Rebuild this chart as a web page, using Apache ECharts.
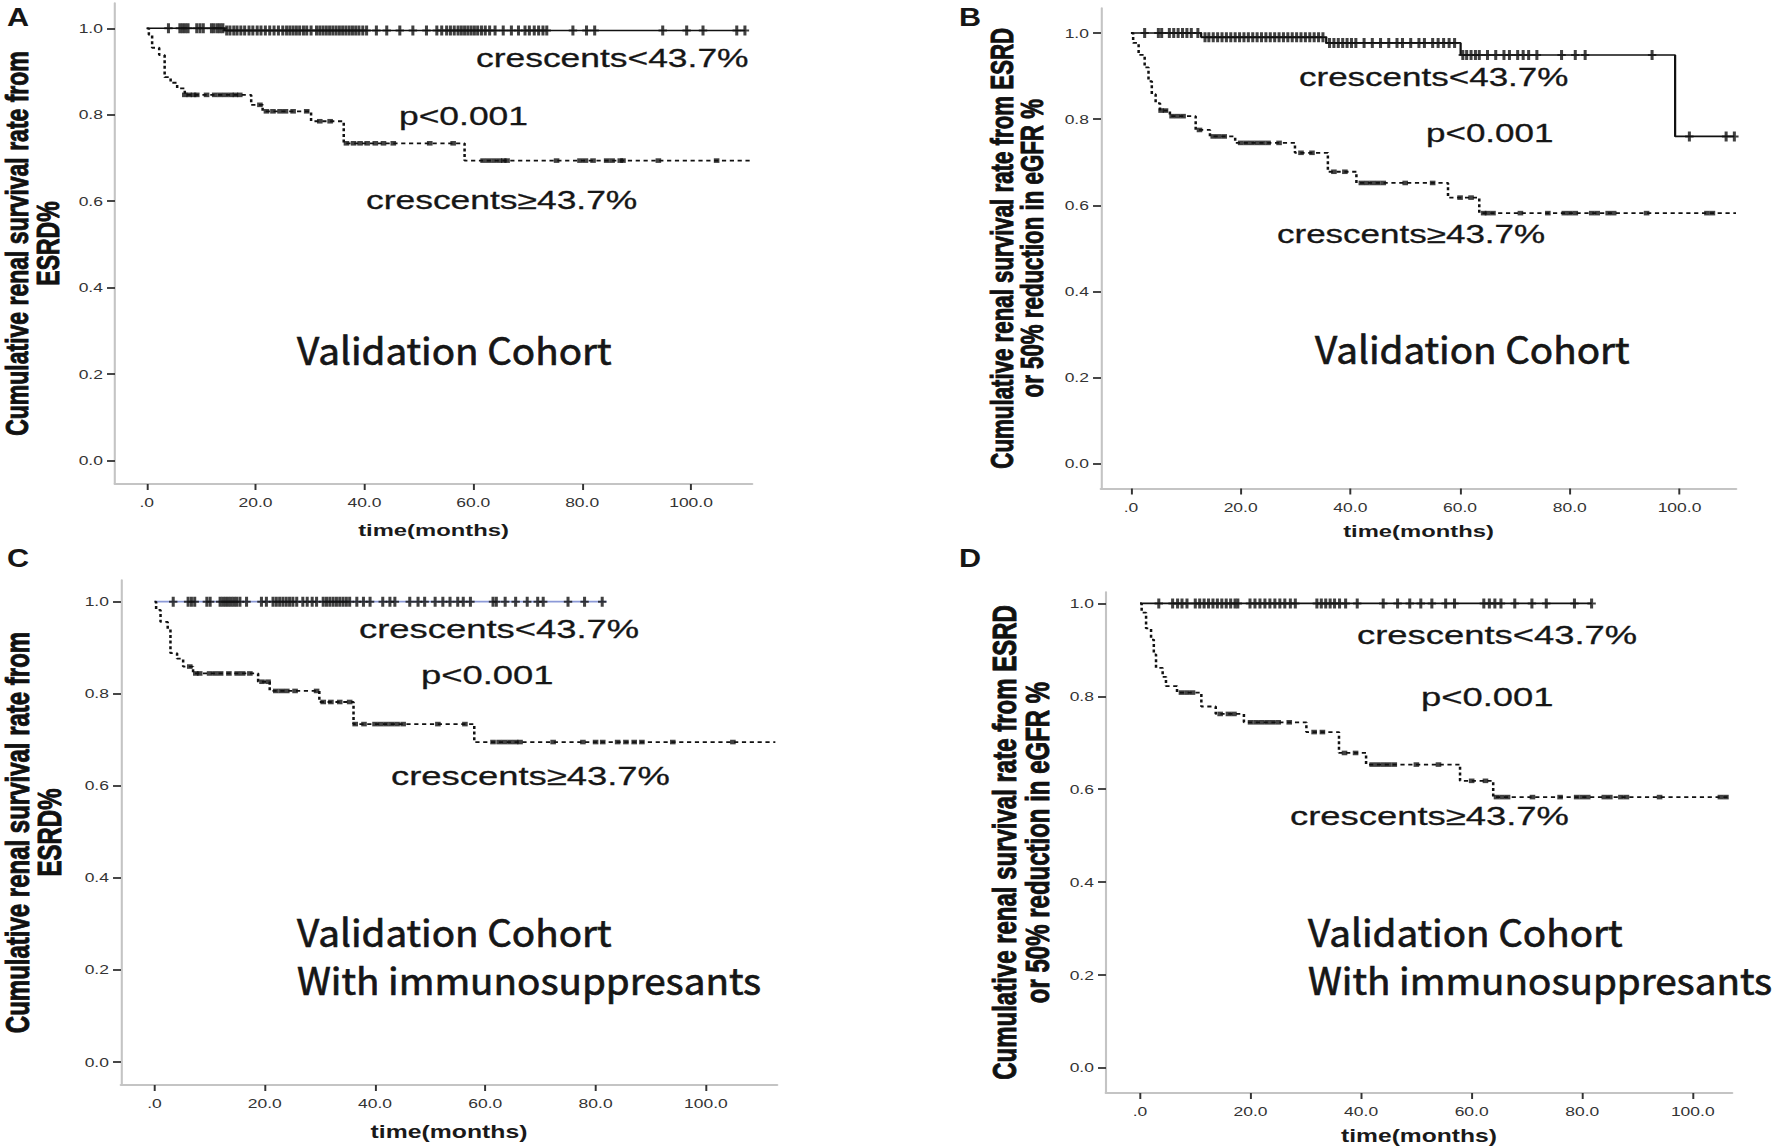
<!DOCTYPE html>
<html><head><meta charset="utf-8">
<script src="https://cdn.jsdelivr.net/npm/echarts@6/dist/echarts.min.js"></script>
<style>
html,body{margin:0;padding:0;background:#fff;overflow:hidden;width:1772px;height:1148px;}
#chart{width:1265.714px;height:1148px;transform:scaleX(1.4);transform-origin:0 0;}
</style></head><body><div id="chart"></div>
<script>
// ---------------- data ----------------
const xTickValues = [0, 20, 40, 60, 80, 100];
const yTickValues = [0, 0.2, 0.4, 0.6, 0.8, 1.0];
const groupLow = 'crescents≥43.7%';
const groupHigh = 'crescents<43.7%';
const pText = 'p<0.001';

// Panel A
const aUpTimes = [0, 14.3, 110];
const aUpSurv  = [1.0, 0.995, 0.995];
const aLowTimes = [0, 0.4, 1.0, 2.3, 3.3, 4.4, 5.6, 7.0, 19.2, 21.3, 30.2, 36.2, 58.4, 111];
const aLowSurv  = [1.0, 0.985, 0.955, 0.938, 0.887, 0.874, 0.861, 0.846, 0.823, 0.808, 0.785, 0.734, 0.694, 0.694];
const aUpCensor = [4.0, 6.1, 6.6, 7.1, 7.6, 9.2, 9.8, 10.4, 11.9, 12.4, 13.0, 13.5, 14.0, 14.7, 15.3, 16.0, 16.6, 17.3, 18.0, 18.8, 19.5, 20.3, 21.0, 21.8, 22.6, 23.4, 24.2, 25.0, 25.7, 26.3, 26.9, 27.5, 28.1, 28.8, 29.4, 30.2, 31.2, 31.8, 32.4, 33.0, 33.6, 34.2, 34.8, 35.4, 36.0, 36.6, 37.2, 37.8, 38.4, 39.0, 39.7, 40.4, 42.2, 44.1, 46.5, 48.9, 51.4, 53.3, 54.2, 55.1, 55.8, 56.5, 57.2, 57.8, 58.4, 59.0, 59.6, 60.2, 60.8, 61.5, 62.2, 63.0, 64.0, 65.5, 67.0, 68.3, 69.5, 70.3, 71.2, 72.0, 72.8, 73.5, 78.3, 80.8, 82.3, 94.8, 99.2, 102.2, 108.4, 109.9];
const aLowCensor = [7.0, 7.8, 8.6, 9.2, 11.0, 12.5, 13.5, 14.5, 15.5, 16.3, 17.1, 20.8, 22.0, 23.2, 24.5, 25.5, 26.9, 29.4, 31.8, 33.7, 36.7, 38.0, 39.2, 40.5, 42.0, 43.5, 45.3, 52.0, 56.3, 61.8, 62.8, 63.8, 64.8, 65.6, 66.2, 75.3, 79.6, 80.6, 82.0, 84.5, 85.5, 87.0, 87.5, 94.0, 104.7];

// Panel B
const bUpTimes = [0, 12.8, 35.6, 60.1, 99.2, 110];
const bUpSurv  = [1.0, 0.99, 0.977, 0.949, 0.76, 0.76];
const bLowTimes = [0, 0.4, 1.4, 2.5, 3.2, 3.8, 4.5, 5.3, 7.1, 11.8, 14.4, 19.0, 29.9, 35.9, 41.1, 57.8, 63.5, 110.3];
const bLowSurv  = [1.0, 0.977, 0.949, 0.92, 0.888, 0.858, 0.837, 0.82, 0.807, 0.775, 0.76, 0.745, 0.722, 0.678, 0.652, 0.618, 0.582, 0.582];
const bUpCensor = [2.5, 5.0, 5.6, 7.0, 7.8, 8.6, 9.4, 10.2, 11.0, 12.2, 13.5, 14.2, 15.0, 15.8, 16.6, 17.4, 18.2, 19.0, 19.8, 20.6, 21.4, 22.2, 23.0, 23.8, 24.6, 25.4, 26.2, 27.0, 27.8, 28.6, 29.4, 30.2, 31.0, 31.8, 32.6, 33.4, 34.2, 35.0, 36.2, 37.0, 37.8, 38.6, 39.4, 40.2, 41.0, 42.5, 44.0, 45.5, 47.0, 48.5, 49.5, 51.0, 52.5, 53.5, 55.0, 56.0, 57.0, 58.0, 59.0, 60.5, 61.2, 62.0, 62.8, 63.5, 65.0, 66.5, 68.0, 69.0, 70.5, 71.5, 72.5, 74.0, 78.5, 81.0, 82.8, 95.0, 101.8, 108.5, 110.0];
const bLowCensor = [5.5, 6.3, 7.5, 8.5, 9.5, 12.5, 15.0, 16.0, 17.0, 20.0, 21.0, 22.0, 23.0, 24.0, 25.0, 27.0, 31.0, 33.0, 37.0, 39.0, 42.0, 43.0, 44.0, 45.0, 46.0, 50.0, 55.0, 60.0, 62.0, 64.3, 65.0, 66.0, 71.0, 76.0, 79.0, 80.0, 81.0, 84.0, 85.0, 87.0, 88.0, 94.0, 105.0, 106.0];

// Panel C
const cUpTimes = [0, 82];
const cUpSurv  = [1.0, 1.0];
const cLowTimes = [0, 0.3, 1.1, 2.4, 2.9, 4.1, 5.2, 7.0, 18.8, 20.9, 29.9, 36.1, 58.0, 112.6];
const cLowSurv  = [1.0, 0.982, 0.956, 0.94, 0.888, 0.876, 0.859, 0.844, 0.826, 0.806, 0.782, 0.734, 0.695, 0.695];
const cUpCensor = [3.4, 6.1, 6.7, 7.3, 9.5, 10.1, 11.9, 12.4, 12.9, 13.4, 13.9, 14.4, 14.9, 15.5, 16.7, 19.4, 20.3, 21.5, 22.1, 22.7, 23.3, 23.9, 24.5, 25.1, 25.8, 26.9, 27.7, 28.6, 29.4, 30.6, 31.2, 31.8, 32.4, 33.0, 33.6, 34.2, 34.8, 35.4, 36.7, 37.9, 39.1, 41.4, 42.7, 43.6, 46.3, 47.8, 49.0, 50.9, 52.3, 53.6, 55.0, 56.0, 57.3, 61.4, 62.0, 63.6, 65.5, 67.6, 69.5, 70.5, 75.0, 78.0, 81.2];
const cLowCensor = [6.4, 7.5, 8.2, 10.0, 11.0, 12.0, 13.5, 15.0, 16.0, 17.3, 19.5, 20.6, 22.0, 23.0, 24.0, 25.5, 29.4, 30.6, 32.0, 33.6, 35.4, 36.4, 38.0, 40.0, 41.0, 42.0, 43.0, 44.0, 45.1, 51.4, 56.3, 61.4, 62.5, 63.5, 64.5, 65.5, 66.3, 72.3, 77.7, 80.0, 81.3, 84.0, 85.5, 87.0, 88.4, 94.0, 104.9];

// Panel D
const dUpTimes = [0, 81.7];
const dUpSurv  = [1.0, 1.0];
const dLowTimes = [0, 0.3, 1.1, 2.0, 2.5, 2.9, 4.1, 4.7, 6.7, 11.1, 13.7, 18.8, 30.1, 36.0, 40.9, 57.9, 63.9, 106.8];
const dLowSurv  = [1.0, 0.98, 0.946, 0.922, 0.89, 0.861, 0.842, 0.822, 0.808, 0.778, 0.762, 0.744, 0.723, 0.678, 0.653, 0.618, 0.583, 0.583];
const dUpCensor = [3.4, 5.9, 6.8, 7.6, 8.5, 10.0, 10.8, 11.6, 12.4, 13.2, 14.0, 14.8, 15.6, 16.4, 17.2, 17.7, 19.9, 20.8, 21.7, 22.6, 23.5, 24.4, 25.3, 26.2, 27.2, 28.1, 32.0, 32.8, 33.6, 34.4, 35.2, 36.1, 37.2, 39.3, 44.0, 46.6, 48.8, 50.8, 52.8, 55.3, 56.9, 62.2, 63.2, 64.2, 65.3, 67.8, 70.9, 73.5, 78.6, 81.7];
const dLowCensor = [7.5, 8.5, 9.5, 14.5, 16.0, 17.0, 20.0, 21.0, 22.0, 23.0, 24.0, 25.0, 27.0, 31.5, 33.0, 37.0, 39.0, 42.0, 43.0, 44.0, 45.0, 46.0, 50.0, 54.0, 60.0, 62.5, 64.5, 65.5, 66.5, 71.0, 76.0, 79.0, 80.0, 81.0, 84.0, 85.0, 87.0, 88.0, 94.0, 105.0, 106.0];

const yTitleShort = 'Cumulative renal survival rate from\nESRD%';
const yTitleLong = 'Cumulative renal survival rate from ESRD\nor 50% reduction in eGFR %';
const xTitle = 'time(months)';
const cohortTitle = 'Validation Cohort';
const cohortSub = 'With immunosuppresants';

// ---------------- layout (in final page pixels; page is stretched 1.4x horizontally) ----------------
const S = 1.4;
const px = v => v / S;

const panels = [
  { letter:'A', box:{l:115, r:752, t:3, b:484}, x:[-5.82, 111.2], y:[-0.054, 1.0585],
    up:[aUpTimes, aUpSurv], low:[aLowTimes, aLowSurv], cu:aUpCensor, cl:aLowCensor, upColor:'#111',
    yName:yTitleShort, yFont:23, yGap:px(115-32.5), xGap:46, xFont:17, letterPos:[7,17],
    txt:[[groupHigh,476,58,25.3],[pText,399,116,25.3],[groupLow,366,200,25.3]], cohort:[297,349], sub:null },
  { letter:'B', box:{l:1101, r:1736, t:8, b:488.5}, x:[-5.46, 110.3], y:[-0.057, 1.058],
    up:[bUpTimes, bUpSurv], low:[bLowTimes, bLowSurv], cu:bUpCensor, cl:bLowCensor, upColor:'#111',
    yName:yTitleLong, yFont:22.3, yGap:px(1101-1017), xGap:42.5, xFont:17, letterPos:[959,17],
    txt:[[groupHigh,1299,77,25],[pText,1426,133,25],[groupLow,1277,234,25]], cohort:[1315,348], sub:null },
  { letter:'C', box:{l:121, r:777, t:580, b:1085}, x:[-6.07, 112.9], y:[-0.05, 1.047],
    up:[cUpTimes, cUpSurv], low:[cLowTimes, cLowSurv], cu:cUpCensor, cl:cLowCensor, upColor:'#8c9ad8',
    yName:yTitleShort, yFont:24, yGap:px(121-33.5), xGap:47, xFont:17.7, letterPos:[7,558],
    txt:[[groupHigh,359,629,26],[pText,421,675,26],[groupLow,391,776,26]], cohort:[297,931], sub:[297,979] },
  { letter:'D', box:{l:1106, r:1732, t:592, b:1093}, x:[-6.15, 107.1], y:[-0.054, 1.0245],
    up:[dUpTimes, dUpSurv], low:[dLowTimes, dLowSurv], cu:dUpCensor, cl:dLowCensor, upColor:'#111',
    yName:yTitleLong, yFont:24, yGap:px(1106-1021), xGap:43.5, xFont:17.6, letterPos:[959,558],
    txt:[[groupHigh,1357,635,26],[pText,1421,697,26],[groupLow,1290,816,26]], cohort:[1308,931], sub:[1308,979] }
];

function curve(times, surv){ return times.map((t,i)=>[t, surv[i]]); }
function stepAt(times, surv, t){ let v = surv[0]; for (let i=0;i<times.length;i++){ if (times[i] <= t) v = surv[i]; } return v; }

const grids=[], xAxes=[], yAxes=[], series=[], graphics=[];
const tickColor = '#333', axisColor = '#c4c4c4';
const plusPath = 'path://M3.2,0h3.6v10h-3.6z M0,4h10v2h-10z';
const sansFam = 'Liberation Sans, Arial, sans-serif';
const cohortFam = 'Noto Sans CJK SC, Noto Sans, sans-serif';

panels.forEach((p, i) => {
  grids.push({ left:px(p.box.l), top:p.box.t, width:px(p.box.r - p.box.l), height:p.box.b - p.box.t, containLabel:false, outerBoundsMode:'none' });
  xAxes.push({ type:'value', gridIndex:i, min:p.x[0], max:p.x[1],
    axisLine:{ show:true, onZero:false, lineStyle:{ color:axisColor, width:2 } },
    axisTick:{ show:true, length:6, customValues:xTickValues, lineStyle:{ color:tickColor, width:1.4 } },
    axisLabel:{ customValues:xTickValues, margin:12, color:tickColor, fontSize:12.5, fontFamily:sansFam,
      formatter: v => v === 0 ? '.0' : v.toFixed(1) },
    splitLine:{ show:false },
    name:xTitle, nameLocation:'middle', nameGap:p.xGap,
    nameTextStyle:{ fontFamily:sansFam, fontWeight:'bold', fontSize:p.xFont, color:'#1a1a1a', verticalAlign:'middle' } });
  yAxes.push({ type:'value', gridIndex:i, min:p.y[0], max:p.y[1],
    axisLine:{ show:true, onZero:false, lineStyle:{ color:axisColor, width:1.5 } },
    axisTick:{ show:true, length:5.7, customValues:yTickValues, lineStyle:{ color:tickColor, width:1.8 } },
    axisLabel:{ customValues:yTickValues, margin:8.6, color:tickColor, fontSize:12.5, fontFamily:sansFam,
      formatter: v => v.toFixed(1) },
    splitLine:{ show:false },
    name:p.yName, nameLocation:'middle', nameGap:p.yGap, nameRotate:90,
    nameTextStyle:{ fontFamily:sansFam, fontWeight:'bold', fontSize:p.yFont, lineHeight:p.yFont*0.96, color:'#111',
      verticalAlign:'middle', align:'center', textBorderColor:'#111', textBorderWidth:0.7 } });

  series.push({ type:'line', name:groupHigh, xAxisIndex:i, yAxisIndex:i, step:'end', showSymbol:false, symbol:'none',
    data:curve(p.up[0], p.up[1]), lineStyle:{ color:p.upColor, width:1.6 }, z:2 });
  series.push({ type:'line', name:groupLow, xAxisIndex:i, yAxisIndex:i, step:'end', showSymbol:false, symbol:'none',
    data:curve(p.low[0], p.low[1]), lineStyle:{ color:'#111', width:1.8, type:[3, 2.6] }, z:2 });
  series.push({ type:'scatter', name:groupHigh + ' censored', xAxisIndex:i, yAxisIndex:i, symbol:plusPath, symbolSize:[6, 10],
    data:p.cu.map(t => [t, stepAt(p.up[0], p.up[1], t)]), itemStyle:{ color:'#111' }, z:3 });
  series.push({ type:'scatter', name:groupLow + ' censored', xAxisIndex:i, yAxisIndex:i, symbol:'rect', symbolSize:[4, 4.6],
    data:p.cl.map(t => [t, stepAt(p.low[0], p.low[1], t)]), itemStyle:{ color:'#111' }, z:3 });

  const txt = (text, x, y, size, fam, weight, sx, stroke) => ({ type:'text', x:px(x), y:y, scaleX:sx, z:10,
    style:{ text:text, fontSize:size, fontFamily:fam, fontWeight:weight, fill:'#161616', align:'left', verticalAlign:'middle',
      stroke: stroke ? '#161616' : null, lineWidth: stroke || 0 } });
  graphics.push(txt(p.letter, p.letterPos[0], p.letterPos[1], 26, sansFam, 'bold', 0.84));
  p.txt.forEach(t => graphics.push(txt(t[0], t[1], t[2], t[3], sansFam, 'normal', 1, 0.3)));
  graphics.push(txt(cohortTitle, p.cohort[0], p.cohort[1], 37.5, cohortFam, 'normal', 0.735, 0.7));
  if (p.sub) graphics.push(txt(cohortSub, p.sub[0], p.sub[1], 37.5, cohortFam, 'normal', 0.735, 0.7));
});

const chart = echarts.init(document.getElementById('chart'), null, { renderer:'svg' });
chart.setOption({
  animation:false,
  backgroundColor:'#ffffff',
  grid:grids, xAxis:xAxes, yAxis:yAxes, series:series, graphic:graphics
});
</script>
</body></html>
